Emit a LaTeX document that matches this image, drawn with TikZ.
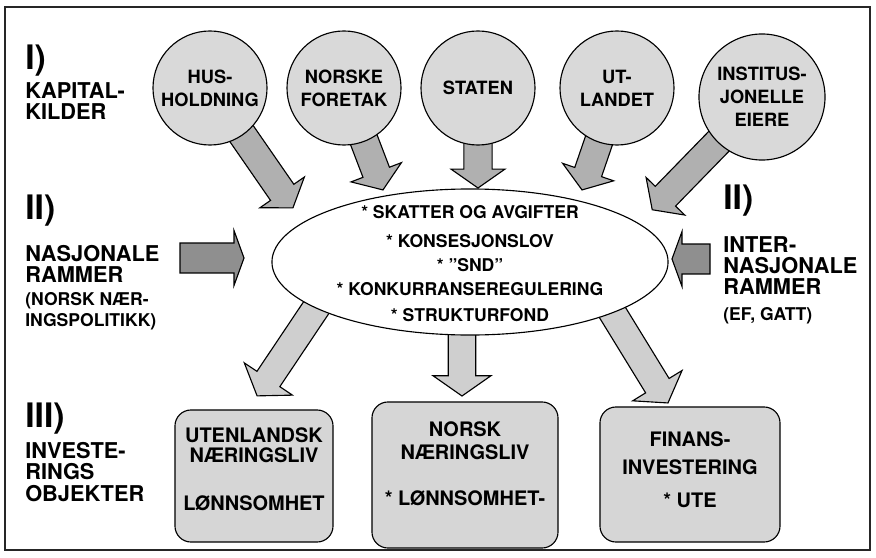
\documentclass[tikz,border=0pt]{standalone}
\usepackage{fontspec}
\setmainfont{TeX Gyre Heros}
\usetikzlibrary{shapes.geometric,shapes.arrows,calc,backgrounds}

% fat block arrow: #1 style, #2 tail, #3 tip
\newcommand{\fatarrow}[3]{%
  \path let \p1=($(#3)-(#2)$), \n1={atan2(\y1,\x1)}, \n2={veclen(\x1,\y1)} in
    node[#1, minimum height=\n2, rotate=\n1, anchor=tail] at (#2) {};%
}

\begin{document}
\begin{tikzpicture}[
        x=0.025cm, y=-0.025cm,
        source/.style={draw, circle, thick, fill=gray!30, inner sep=0pt, align=center,
            minimum size=2.85cm, font=\fontsize{13}{16.5}\selectfont\bfseries},
        rules/.style={draw, ellipse, thick, fill=white, minimum width=9.9cm, minimum height=3.65cm},
        target/.style={draw, thick, rounded corners=0.4cm, fill=gray!32},
        boxtext/.style={anchor=north, inner sep=0pt, font=\fontsize{14.2}{15}\selectfont\bfseries},
        numeral/.style={anchor=north west, inner sep=0pt, font=\fontsize{24}{24}\selectfont\bfseries},
        heading/.style={anchor=north west, inner sep=0pt, align=left,
            font=\fontsize{15.5}{15.2}\selectfont\bfseries},
        subheading/.style={heading, font=\fontsize{12.5}{14.9}\selectfont\bfseries},
        feed/.style={single arrow, draw, thick, fill=gray!62, inner xsep=0pt, inner ysep=0.34cm,
            outer sep=0pt, single arrow head extend=0.32cm, single arrow tip angle=110},
        push/.style={feed, fill=gray!88, inner ysep=0.36cm, single arrow head extend=0.31cm,
            single arrow tip angle=140},
        invest/.style={feed, fill=gray!38, inner ysep=0.33cm, single arrow head extend=0.38cm}
    ]
        \useasboundingbox (0,0) rectangle (876,558);
        \draw[line width=1.2pt, black!85] (5,7) rectangle (870,550);

        % capital sources
        \node[source] (hus) at (210,88) {HUS-\\HOLDNING};
        \node[source] (nfo) at (344,88) {NORSKE\\FORETAK};
        \node[source] (sta) at (478,88) {STATEN};
        \node[source] (uta) at (617,88) {UT-\\LANDET};
        \node[source, minimum size=3.15cm] (ins) at (762,97) {INSTITUS-\\JONELLE\\EIERE};

        % framework in the middle
        \node[rules] (frm) at (470,262) {};
        \node[anchor=north, inner sep=0pt, align=center, font=\fontsize{12.5}{17}\selectfont\bfseries]
            (frm-txt) at (470,205)
            {* SKATTER OG AVGIFTER\\[3.6pt]* KONSESJONSLOV\\* "SND"\\* KONKURRANSEREGULERING\\[2.1pt]* STRUKTURFOND};

        % investment objects
        \node[target, minimum width=3.95cm, minimum height=3.3cm] (utl) at (254,476) {};
        \node[target, minimum width=4.65cm, minimum height=3.65cm] (nnl) at (465,475) {};
        \node[target, minimum width=4.5cm, minimum height=3.375cm] (fin) at (690,474.5) {};
        \node[boxtext] (utl-t1) at (254,427) {UTENLANDSK};
        \node[boxtext] (utl-t2) at (254,447) {NÆRINGSLIV};
        \node[boxtext] (utl-t3) at (254,495) {LØNNSOMHET};
        \node[boxtext] (nnl-t1) at (465,421) {NORSK};
        \node[boxtext] (nnl-t2) at (465,444) {NÆRINGSLIV};
        \node[boxtext] (nnl-t3) at (465,490) {* LØNNSOMHET-};
        \node[boxtext] (fin-t1) at (690,431) {FINANS-};
        \node[boxtext] (fin-t2) at (690,459) {INVESTERING};
        \node[boxtext] (fin-t3) at (690,493) {* UTE};

        % side labels
        \node[numeral] (lev1) at (25,45) {I)};
        \node[heading] (kap) at (25,82) {KAPITAL-\\KILDER};
        \node[numeral] (lev2) at (25,195) {II)};
        \node[heading] (nasj) at (25,245) {NASJONALE\\RAMMER};
        \node[subheading] (nasj-sub) at (25,292) {(NORSK NÆR-\\INGSPOLITIKK)};
        \node[numeral] (lev2r) at (723,185) {II)};
        \node[heading] (inter) at (723,236) {INTER-\\NASJONALE\\RAMMER};
        \node[subheading] (inter-sub) at (723,307) {(EF, GATT)};
        \node[numeral] (lev3) at (25,403) {III)};
        \node[heading] (inv) at (25,442) {INVESTE-\\RINGS\\OBJEKTER};

        % arrow ends
        \coordinate (t-hus) at (293,208);
        \coordinate (t-nfo) at (383,190);
        \coordinate (t-sta) at (478,188);
        \coordinate (t-uta) at (582,190);
        \coordinate (t-ins) at (652,210);
        \coordinate (nasj-tail) at (180,258);
        \coordinate (nasj-tip) at (244,258);
        \coordinate (inter-tail) at (710,259);
        \coordinate (inter-tip) at (672,259);
        \coordinate (utl-tail) at (320,302);
        \coordinate (utl-tip) at (257,396);
        \coordinate (nnl-tail) at (462,320);
        \coordinate (nnl-tip) at (462,396);
        \coordinate (fin-tail) at (606,302);
        \coordinate (fin-tip) at (668,403);

        \begin{scope}[on background layer]
            \fatarrow{feed}{hus.center}{t-hus}
            \fatarrow{feed}{nfo.center}{t-nfo}
            \fatarrow{feed}{sta.center}{t-sta}
            \fatarrow{feed}{uta.center}{t-uta}
            \fatarrow{feed}{ins.center}{t-ins}
            \fatarrow{push}{nasj-tail}{nasj-tip}
            \fatarrow{push}{inter-tail}{inter-tip}
            \fatarrow{invest}{utl-tail}{utl-tip}
            \fatarrow{invest}{nnl-tail}{nnl-tip}
            \fatarrow{invest}{fin-tail}{fin-tip}
        \end{scope}
    \end{tikzpicture}
\end{document}
